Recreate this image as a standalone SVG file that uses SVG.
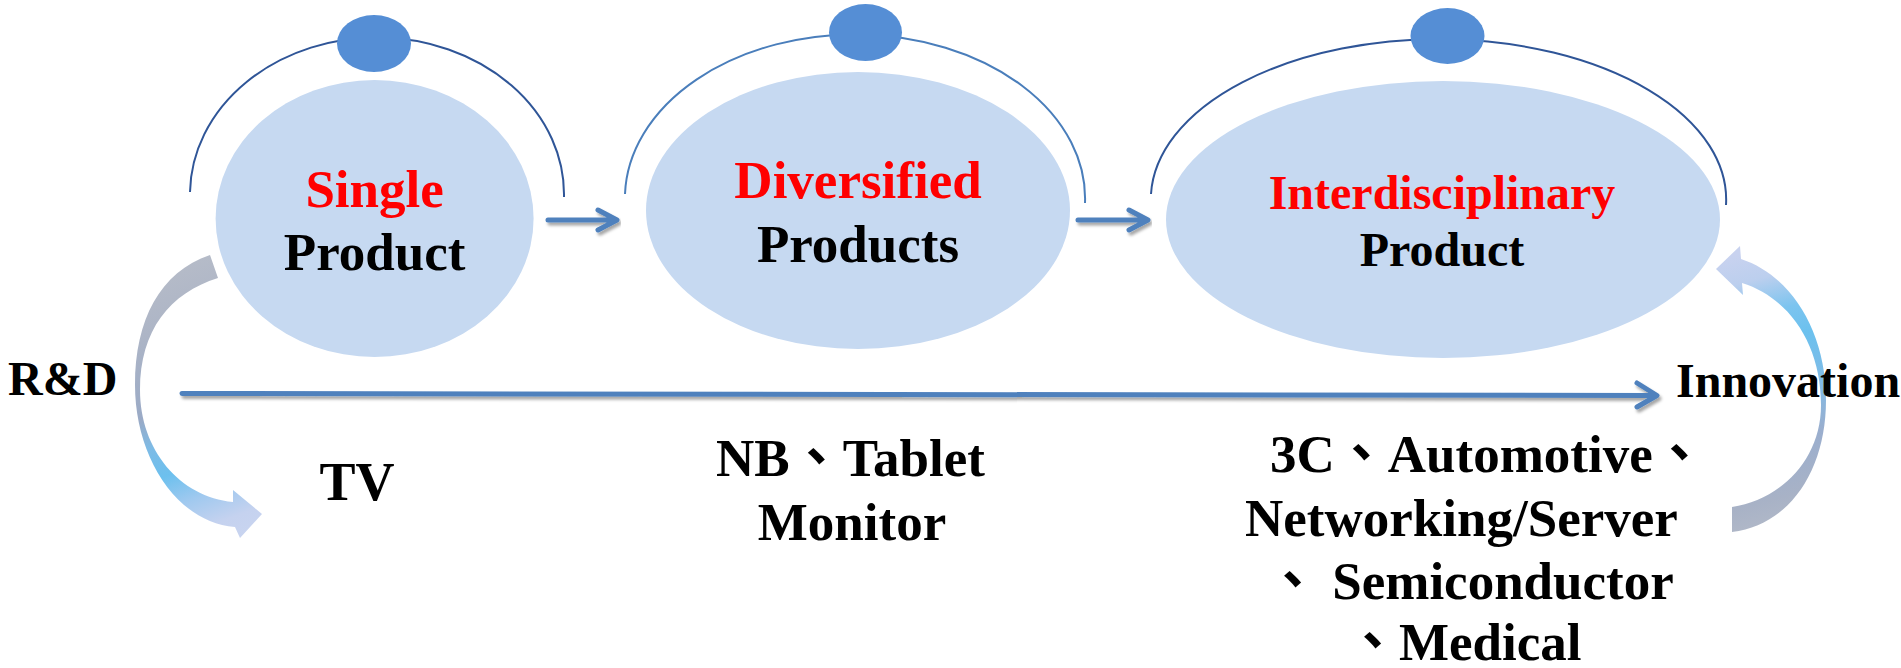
<svg xmlns="http://www.w3.org/2000/svg" width="1901" height="668" viewBox="0 0 1901 668">
<defs>
<style>
.t{font-family:"Liberation Serif","Times New Roman",serif;font-weight:bold;fill:#000;}
.cjk{font-family:"Liberation Serif","Times New Roman","Noto Sans CJK TC",serif;font-weight:bold;fill:#000;}
.red{fill:#ff0000;}
.node{fill:#c6d9f1;}
.dot{fill:#558ed5;}
.arc{fill:none;stroke:#2f5597;stroke-width:2;}
.arc2{fill:none;stroke:#4a7ebb;stroke-width:2;}
.arr{fill:none;stroke:#4f81bd;stroke-width:5;stroke-linecap:round;stroke-linejoin:round;}
</style>
<filter id="sh" x="-5%" y="-50%" width="110%" height="200%">
<feDropShadow dx="2" dy="3" stdDeviation="1.5" flood-color="#000" flood-opacity="0.35"/>
</filter>
<linearGradient id="gRD" gradientUnits="userSpaceOnUse" x1="150" y1="250" x2="260" y2="540">
<stop offset="0" stop-color="#b9bec9"/>
<stop offset="0.25" stop-color="#adb5c6"/>
<stop offset="0.5" stop-color="#9aaac6"/>
<stop offset="0.6" stop-color="#7dbbe6"/>
<stop offset="0.7" stop-color="#6cc0ee"/>
<stop offset="0.8" stop-color="#a0c9ef"/>
<stop offset="0.9" stop-color="#c5d2ef"/>
<stop offset="1" stop-color="#cad5f0"/>
</linearGradient>
<linearGradient id="gIN" gradientUnits="userSpaceOnUse" x1="1716" y1="260" x2="1790" y2="540">
<stop offset="0" stop-color="#c8d2ef"/>
<stop offset="0.1" stop-color="#bccfee"/>
<stop offset="0.22" stop-color="#7cc4ef"/>
<stop offset="0.32" stop-color="#6cc1ee"/>
<stop offset="0.5" stop-color="#80bbe6"/>
<stop offset="0.66" stop-color="#9aaece"/>
<stop offset="0.85" stop-color="#a8b2c6"/>
<stop offset="1" stop-color="#b6bcc9"/>
</linearGradient>
</defs>
<rect width="1901" height="668" fill="#fff"/>

<g id="node-single">
<path class="arc" d="M190,192 A187,157 0 0 1 564,197"/>
<ellipse class="dot" cx="374" cy="43.5" rx="37" ry="28.5"/>
<ellipse class="node" cx="374.6" cy="218.5" rx="159" ry="138.5"/>
<text x="374.6" y="207" font-size="53" text-anchor="middle" class="t red">Single</text>
<text x="374.6" y="270" font-size="53" text-anchor="middle" class="t">Product</text>
</g>

<g id="node-diversified">
<path class="arc2" d="M625,194 A230,164 0 0 1 1085,203"/>
<ellipse class="dot" cx="865.5" cy="32.5" rx="36.5" ry="28.5"/>
<ellipse class="node" cx="858" cy="210.5" rx="212" ry="138.5"/>
<text x="858" y="198" font-size="53" text-anchor="middle" class="t red">Diversified</text>
<text x="858" y="262" font-size="53" text-anchor="middle" class="t">Products</text>
</g>

<g id="node-interdisciplinary">
<path class="arc" d="M1151,194 A287,160 0 0 1 1726,205"/>
<ellipse class="dot" cx="1447.5" cy="36" rx="37" ry="28"/>
<ellipse class="node" cx="1443" cy="219.5" rx="277" ry="138.5"/>
<text x="1442" y="209" font-size="48" text-anchor="middle" class="t red">Interdisciplinary</text>
<text x="1442" y="266" font-size="48" text-anchor="middle" class="t">Product</text>
</g>

<g id="connectors">
<path class="arr" filter="url(#sh)" d="M548,220 H615 M598,210 L617,220 L598,230"/>
<path class="arr" filter="url(#sh)" d="M1078,220 H1146 M1129,210 L1148,220 L1129,230"/>
<path class="arr" filter="url(#sh)" d="M182,393.5 L1655,395.5 M1637,383 L1657,395.5 L1637,407"/>
<path id="rd-arrow" fill="url(#gRD)" d="M210,255 C160,272 135,320 135,385 C135,455 175,522 235,527 L240,538 L262,514 L233,490 L233,502 C180,497 140,450 140,390 C140,330 170,293 218,278 Z"/>
<path id="innov-arrow" fill="url(#gIN)" d="M1732,532 C1790,525 1826,470 1826,400 C1826,330 1790,275 1741,259 L1740,246 L1716,269 L1743,295 L1742,283 C1790,298 1821,345 1821,405 C1821,460 1780,500 1732,507 Z"/>
</g>

<g id="label-rd">
<text x="8" y="395" font-size="48" class="t">R&amp;D</text>
</g>
<g id="label-innovation">
<text x="1676" y="397" font-size="48" class="t">Innovation</text>
</g>
<g id="label-tv">
<text x="357" y="500" font-size="54" text-anchor="middle" class="t">TV</text>
</g>
<g id="label-nb">
<text x="716" y="476" font-size="53" class="cjk">NB、Tablet</text>
<text x="852" y="540" font-size="53" text-anchor="middle" class="t">Monitor</text>
</g>
<g id="label-3c">
<text x="1270" y="472" font-size="53" class="cjk">3C、Automotive、</text>
<text x="1245" y="536" font-size="53" class="t">Networking/Server</text>
<text x="1266" y="599" font-size="53" class="cjk">、 Semiconductor</text>
<text x="1346" y="660" font-size="53" class="cjk">、Medical</text>
</g>
</svg>
